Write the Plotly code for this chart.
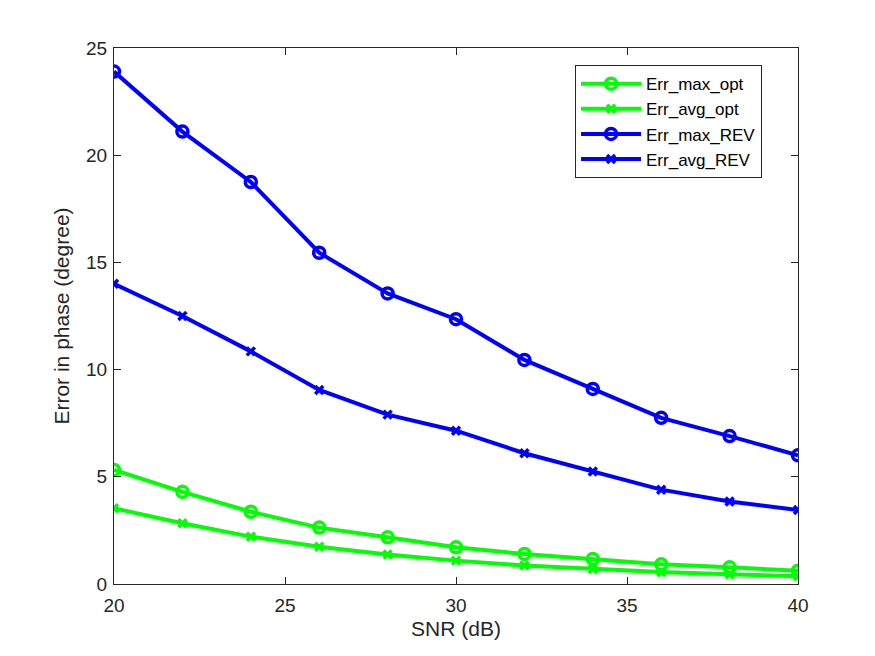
import plotly.graph_objects as go

snr = [20, 22, 24, 26, 28, 30, 32, 34, 36, 38, 40]
err_max_opt = [5.32, 4.30, 3.37, 2.63, 2.18, 1.71, 1.40, 1.17, 0.92, 0.78, 0.62]
err_avg_opt = [3.53, 2.83, 2.21, 1.74, 1.38, 1.09, 0.86, 0.70, 0.56, 0.45, 0.36]
err_max_rev = [23.9, 21.1, 18.75, 15.45, 13.55, 12.35, 10.45, 9.1, 7.75, 6.9, 6.0]
err_avg_rev = [14.0, 12.5, 10.85, 9.05, 7.9, 7.15, 6.1, 5.25, 4.4, 3.85, 3.45]

green = "#00ff00"
blue = "#0000ff"

series = [
    ("Err_max_opt", err_max_opt, green, "circle-open"),
    ("Err_avg_opt", err_avg_opt, green, "x-thin"),
    ("Err_max_REV", err_max_rev, blue, "circle-open"),
    ("Err_avg_REV", err_avg_rev, blue, "x-thin"),
]

fig = go.Figure()
for name, vals, col, sym in series:
    fig.add_trace(go.Scatter(
        x=snr, y=vals, name=name, mode="lines+markers",
        line=dict(color=col, width=4),
        marker=dict(symbol=sym, size=11 if sym == "circle-open" else 8,
                    color=col, line=dict(color=col, width=3.5)),
    ))

axis_style = dict(
    showgrid=False, zeroline=False, showline=True, linecolor="#262626",
    linewidth=1, mirror="ticks", ticks="inside", ticklen=7,
    tickcolor="#262626", tickfont=dict(family="Arial", size=19, color="#262626"),
)

# body of the page adds 8px, margins compensate
fig.update_layout(
    width=875, height=656,
    margin=dict(l=106, r=85, t=40, b=80),
    paper_bgcolor="white", plot_bgcolor="white",
    font=dict(family="Arial", color="#262626"),
    xaxis=dict(axis_style, range=[20, 40], dtick=5, ticklabelstandoff=4,
               title=dict(text="SNR (dB)", font=dict(size=21), standoff=6)),
    yaxis=dict(axis_style, range=[0, 25], dtick=5, ticklabelstandoff=2,
               title=dict(text="Error in phase (degree)", font=dict(size=21), standoff=10)),
    legend=dict(x=0.674, y=0.968, xanchor="left", yanchor="top",
                bgcolor="white", bordercolor="#262626", borderwidth=1,
                font=dict(family="Arial", size=17, color="#000000"),
                itemwidth=60, tracegroupgap=0),
    showlegend=True,
)

fig.write_html("out.html")
